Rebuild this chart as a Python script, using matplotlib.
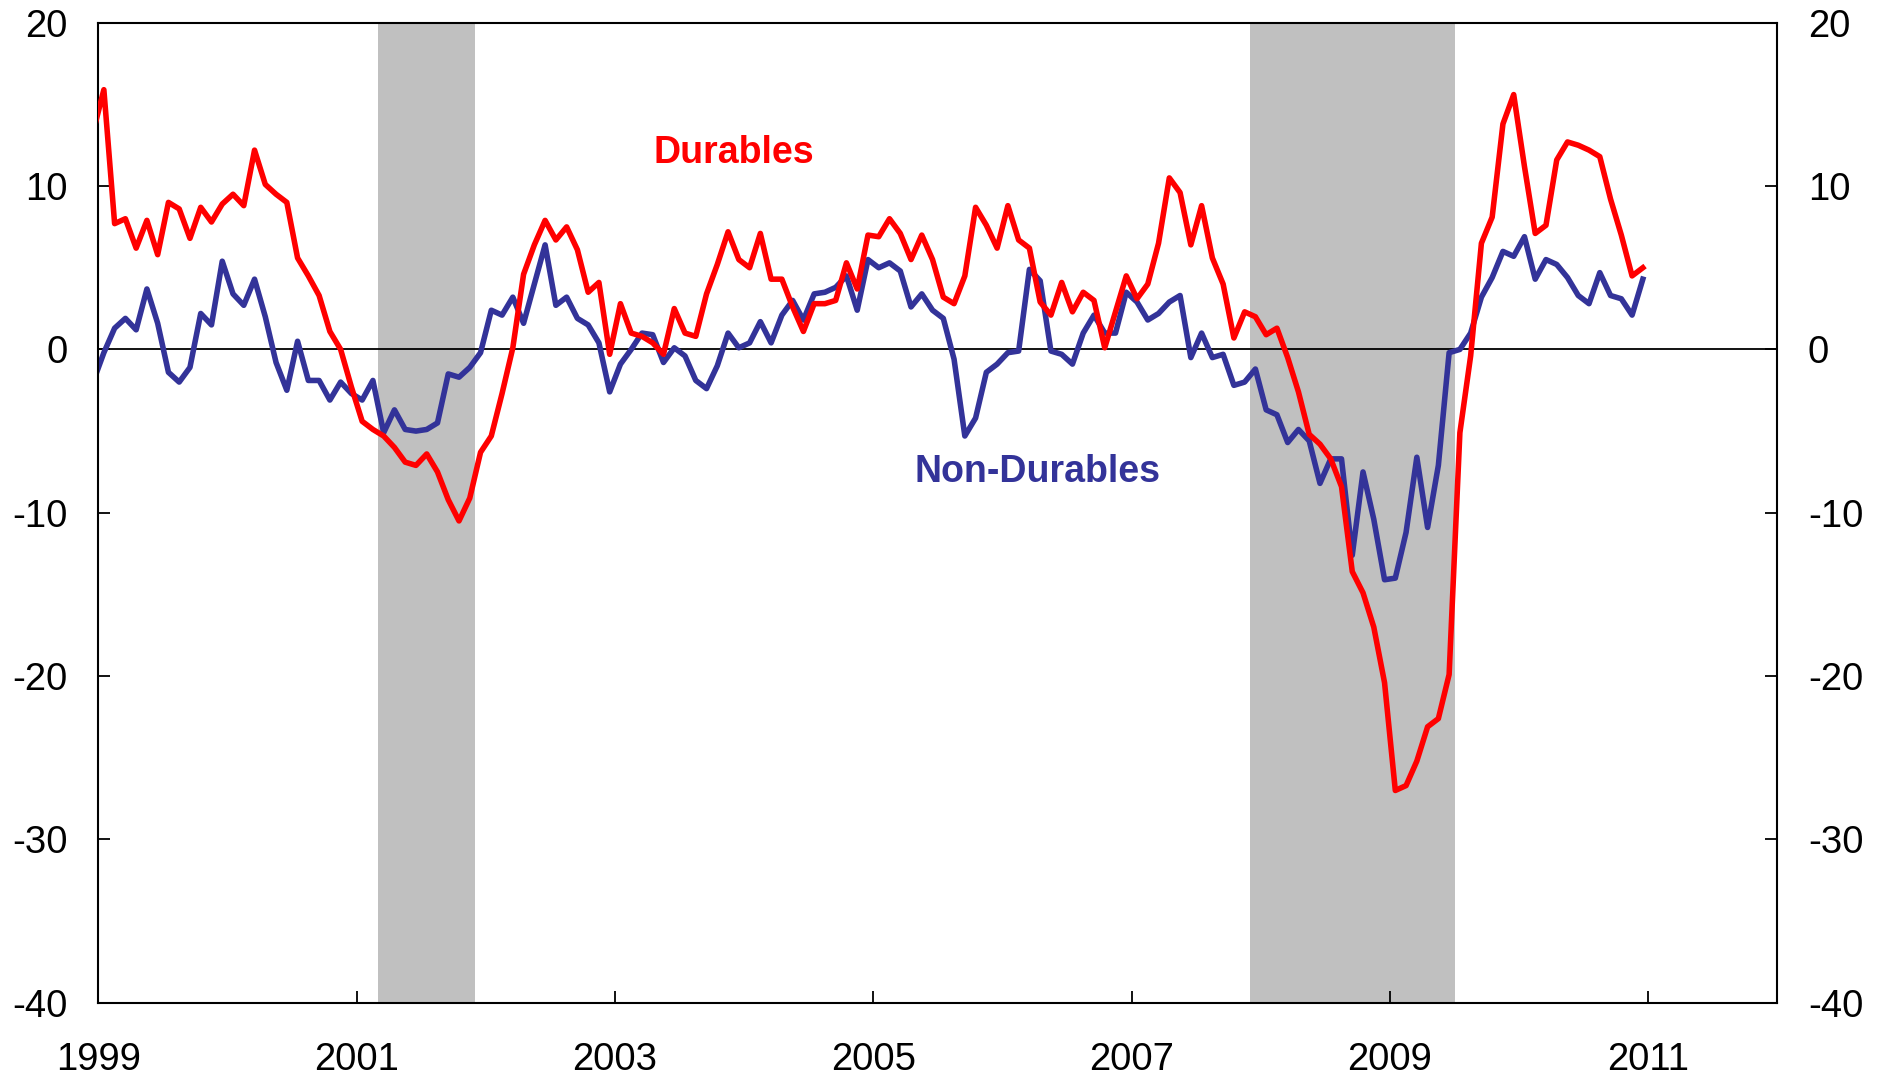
import numpy as np
import matplotlib
matplotlib.use("Agg")
import matplotlib.pyplot as plt

plt.rcParams["font.family"] = ["Liberation Sans", "DejaVu Sans"]
plt.rcParams["axes.unicode_minus"] = False

# monthly values, Dec 1998 .. Dec 2010 (percent)
first_year, first_month = 1998, 12

durables = [
    13.3,
    15.9, 7.7, 8.0, 6.2, 7.9, 5.8, 9.0, 8.6, 6.8, 8.7, 7.8, 8.9,
    9.5, 8.8, 12.2, 10.1, 9.5, 9.0, 5.6, 4.5, 3.3, 1.1, 0.0, -2.3,
    -4.4, -4.9, -5.3, -6.0, -6.9, -7.1, -6.4, -7.5, -9.2, -10.5, -9.1, -6.3,
    -5.3, -2.7, 0.1, 4.6, 6.4, 7.9, 6.7, 7.5, 6.1, 3.5, 4.1, -0.3,
    2.8, 1.0, 0.8, 0.4, -0.3, 2.5, 1.0, 0.8, 3.4, 5.2, 7.2, 5.5,
    5.0, 7.1, 4.3, 4.3, 2.6, 1.1, 2.8, 2.8, 3.0, 5.3, 3.7, 7.0,
    6.9, 8.0, 7.1, 5.5, 7.0, 5.5, 3.2, 2.8, 4.5, 8.7, 7.6, 6.2,
    8.8, 6.7, 6.2, 2.9, 2.1, 4.1, 2.3, 3.5, 3.0, 0.1, 2.3, 4.5,
    3.1, 4.0, 6.5, 10.5, 9.6, 6.4, 8.8, 5.6, 4.0, 0.7, 2.3, 2.0,
    0.9, 1.3, -0.5, -2.6, -5.2, -5.8, -6.7, -8.4, -13.6, -14.9, -17.0, -20.4,
    -27.0, -26.7, -25.2, -23.1, -22.6, -19.9, -5.1, -0.4, 6.5, 8.1, 13.8, 15.6,
    11.2, 7.1, 7.6, 11.6, 12.7, 12.5, 12.2, 11.8, 9.2, 7.0, 4.5, 5.0,
]

non_durables = [
    -2.0,
    -0.2, 1.3, 1.9, 1.2, 3.7, 1.6, -1.4, -2.0, -1.1, 2.2, 1.5, 5.4,
    3.4, 2.7, 4.3, 2.0, -0.8, -2.5, 0.5, -1.9, -1.9, -3.1, -2.0, -2.7,
    -3.1, -1.9, -5.1, -3.7, -4.9, -5.0, -4.9, -4.5, -1.5, -1.7, -1.1, -0.2,
    2.4, 2.1, 3.2, 1.6, 4.0, 6.4, 2.7, 3.2, 1.9, 1.5, 0.4, -2.6,
    -0.9, 0.0, 1.0, 0.9, -0.8, 0.1, -0.4, -1.9, -2.4, -1.0, 1.0, 0.1,
    0.4, 1.7, 0.4, 2.1, 3.0, 1.8, 3.4, 3.5, 3.8, 4.5, 2.4, 5.5,
    5.0, 5.3, 4.8, 2.6, 3.4, 2.4, 1.9, -0.6, -5.3, -4.2, -1.4, -0.9,
    -0.2, -0.1, 4.9, 4.2, -0.1, -0.3, -0.9, 1.0, 2.1, 1.0, 1.0, 3.5,
    2.9, 1.8, 2.2, 2.9, 3.3, -0.5, 1.0, -0.5, -0.3, -2.2, -2.0, -1.2,
    -3.7, -4.0, -5.7, -4.9, -5.6, -8.2, -6.7, -6.7, -12.6, -7.5, -10.4, -14.1,
    -14.0, -11.2, -6.6, -10.9, -7.1, -0.2, 0.0, 1.0, 3.2, 4.4, 6.0, 5.7,
    6.9, 4.3, 5.5, 5.2, 4.4, 3.3, 2.8, 4.7, 3.3, 3.1, 2.1, 4.3,
]

# recession shading (start month, first month after)
recessions = [("2001-03", "2001-12"), ("2007-12", "2009-07")]

x_ticks = list(range(1999, 2012, 2))
y_ticks = list(range(-40, 21, 10))


def month_to_year(s):
    y, m = s.split("-")
    return int(y) + (int(m) - 1) / 12


# points sit in the middle of each month
idx = np.arange(len(durables))
x = first_year + (first_month - 1 + idx + 0.5) / 12

RED = "#ff0000"
BLUE = "#333399"

fig = plt.figure(figsize=(18.83, 10.81), dpi=100)
ax = fig.add_axes([0.0523, 0.0723, 0.8916, 0.9067])

for start, end in recessions:
    ax.axvspan(month_to_year(start), month_to_year(end), color="#c0c0c0", lw=0, zorder=0)

ax.axhline(0, color="black", lw=1.3, zorder=1)
ax.plot(x, non_durables, color=BLUE, lw=4.0, zorder=2)
ax.plot(x, durables, color=RED, lw=4.0, zorder=3)

ax.text(2003.92, 12.0, "Durables", color=RED, fontsize=27, fontweight="bold",
        ha="center", va="center")
ax.text(2006.27, -7.5, "Non-Durables", color=BLUE, fontsize=27, fontweight="bold",
        ha="center", va="center")

ax.set_xlim(1999, 2012)
ax.set_ylim(-40, 20)
ax.set_xticks(x_ticks)
ax.set_yticks(y_ticks)

ax.tick_params(axis="both", direction="in", length=8.5, width=1.3, labelsize=27.5)
ax.tick_params(axis="x", pad=28)
ax.tick_params(axis="y", left=True, right=True, labelleft=True, labelright=True, pad=22)

for sp in ax.spines.values():
    sp.set_linewidth(1.5)

fig.savefig("out.png", dpi=100)
